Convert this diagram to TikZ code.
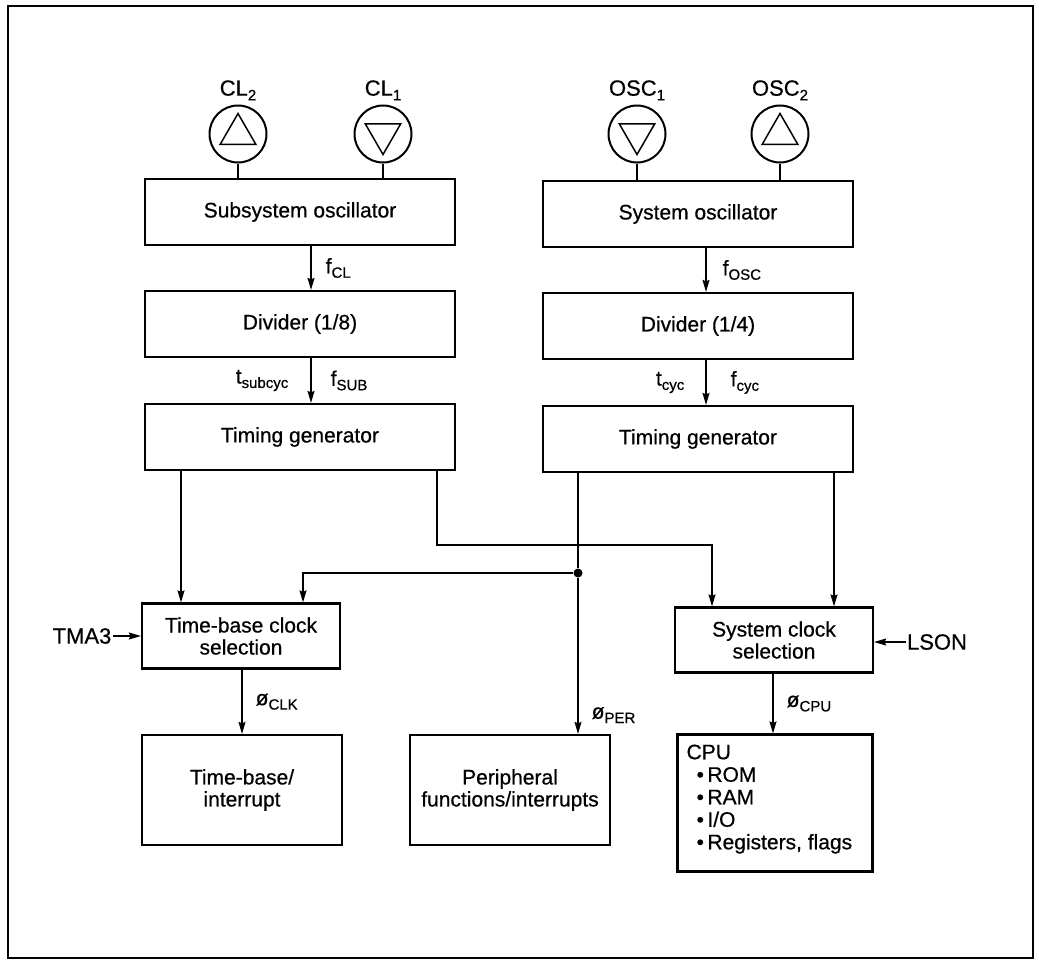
\documentclass[tikz,border=0pt]{standalone}
\usepackage{fontspec}
\setmainfont{Liberation Sans}[FakeBold=0.6]
\usetikzlibrary{arrows.meta,shapes.geometric}

\newcommand\sbs[1]{\raisebox{-0.4ex}{\fontsize{15}{15}\selectfont #1}}

\begin{document}
\begin{tikzpicture}[x=1pt, y=-1pt,
    blk/.style={draw, line width=2.2pt, minimum width=310pt, minimum height=66pt, inner sep=0pt, font=\fontsize{21}{22}\selectfont},
    selblk/.style={blk, minimum width=198pt, minimum height=65pt, align=center},
    outblk/.style={blk, minimum width=200pt, minimum height=110pt, align=center},
    wire/.style={line width=1.4pt},
    arr/.style={wire, -{Stealth[length=12pt, width=7pt, inset=1.5pt]}},
    pin/.style={circle, draw, line width=2pt, minimum size=57pt, inner sep=0pt},
    tri/.style={regular polygon, regular polygon sides=3, draw, line width=1.5pt, minimum size=41pt, inner sep=0pt},
    lbl/.style={font=\fontsize{21}{22}\selectfont, inner sep=1pt},
    pinlbl/.style={font=\fontsize{22}{22}\selectfont, inner sep=1pt},
    dot/.style={circle, fill, minimum size=9pt, inner sep=0pt},
  ]

  \useasboundingbox (0,0) rectangle (1039,961);
  \draw[line width=2.2pt] (8,6) rectangle (1033,958);

  % ---- oscillator / divider / timing chains
  \node[blk] (subosc) at (300,212) {Subsystem oscillator};
  \node[blk] (div8)   at (300,324) {Divider (1/8)};
  \node[blk] (tgl)    at (300,437) {Timing generator};
  \node[blk] (sysosc) at (698,214) {System oscillator};
  \node[blk] (div4)   at (698,326) {Divider (1/4)};
  \node[blk] (tgr)    at (698,439) {Timing generator};

  % ---- crystal pins on top of the oscillators
  \foreach \nm/\x/\tip/\bx/\txt in {%
      cl2/238/0/subosc/{CL\sbs{2}},
      cl1/383/180/subosc/{CL\sbs{1}},
      osc1/637/180/sysosc/{OSC\sbs{1}},
      osc2/780/0/sysosc/{OSC\sbs{2}}} {
    \node[pin] (\nm) at (\x,134) {};
    \node[tri, shape border rotate=\tip] (\nm-tri) at (\nm) {};
    \node[pinlbl, above=3pt] (\nm-lbl) at (\nm.north) {\txt};
    \draw[wire] (\nm.south) -- (\nm.south |- \bx.north);
  }

  % ---- clock selection and the blocks they feed
  \node[selblk] (tbsel)  at (241,636) {Time-base clock\\selection};
  \node[selblk] (syssel) at (774,640) {System clock\\selection};
  \node[outblk] (tbint)  at (242,790) {Time-base/\\interrupt};
  \node[outblk] (perif)  at (510,790) {Peripheral\\functions/interrupts};
  \node[draw, line width=2.2pt, minimum width=195pt, minimum height=137pt] (cpu) at (775,803) {};
  \node[lbl, align=left, anchor=north west, font=\fontsize{21}{22.5}\selectfont] (cputxt)
    at ([shift={(9,10)}]cpu.north west)
    {CPU\\\hspace*{10pt}\textbullet\,ROM\\\hspace*{10pt}\textbullet\,RAM\\
     \hspace*{10pt}\textbullet\,I/O\\\hspace*{10pt}\textbullet\,Registers, flags};

  \node[pinlbl] (tma)  at (82,636)  {TMA3};
  \node[pinlbl] (lson) at (937,642) {LSON};

  % ---- columns of the vertical connectors
  \coordinate (xfl) at (311,0);
  \coordinate (xfo) at (706,0);
  \coordinate (xsl) at (181,0);
  \coordinate (xsb) at (437,0);
  \coordinate (xtb) at (303,0);
  \coordinate (xss) at (712,0);
  \coordinate (xsr) at (834,0);
  \coordinate (xck) at (242,0);
  \coordinate (xcp) at (773,0);
  \coordinate (ybus) at (0,545);

  \draw[arr] (xfl |- subosc.south) -- (xfl |- div8.north) node[lbl, midway, right=13pt] {f\sbs{CL}};
  \draw[arr] (xfl |- div8.south) -- (xfl |- tgl.north)
    node[lbl, midway, right=18pt] {f\sbs{SUB}}
    node[lbl, midway, left=21pt] {t\sbs{subcyc}};
  \draw[arr] (xfo |- sysosc.south) -- (xfo |- div4.north) node[lbl, midway, right=15pt] {f\sbs{OSC}};
  \draw[arr] (xfo |- div4.south) -- (xfo |- tgr.north)
    node[lbl, midway, right=23pt] {f\sbs{cyc}}
    node[lbl, midway, left=20pt] {t\sbs{cyc}};

  % ---- timing generators to the selectors
  \draw[arr] (xsl |- tgl.south) -- (xsl |- tbsel.north);
  \draw[arr] (xsb |- tgl.south) -- (xsb |- ybus) -| (xss |- syssel.north);
  \node[dot] (jn) at (578,573) {};
  \draw[wire] (jn |- tgr.south) -- (jn);
  \draw[arr] (jn) -| (xtb |- tbsel.north);
  \draw[arr] (xsr |- tgr.south) -- (xsr |- syssel.north);

  % ---- outputs
  \draw[arr] (xck |- tbsel.south) -- (xck |- tbint.north) node[lbl, midway, right=12pt] {ø\sbs{CLK}};
  \draw[arr] (jn) -- (jn |- perif.north) node[lbl, pos=0.88, right=12pt] {ø\sbs{PER}};
  \draw[arr] (xcp |- syssel.south) -- (xcp |- cpu.north) node[lbl, midway, right=12pt] {ø\sbs{CPU}};

  \draw[arr] (tma.east) -- (tma.east -| tbsel.west);
  \draw[arr] (lson.west) -- (lson.west -| syssel.east);

\end{tikzpicture}
\end{document}
